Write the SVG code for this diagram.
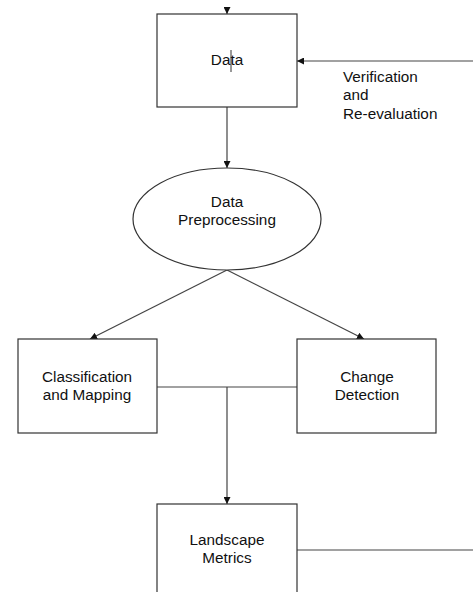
<svg xmlns="http://www.w3.org/2000/svg" width="473" height="592" viewBox="0 0 473 592">
<style>
.box{fill:#fff;stroke:#333;stroke-width:1.2}
.ln{fill:none;stroke:#444;stroke-width:1.2}
text{font-family:"Liberation Sans",Arial,sans-serif;font-size:15.3px;fill:#111}
.c{text-anchor:middle}
</style>
<defs>
<marker id="ah" viewBox="0 0 10 10" refX="10" refY="5" markerWidth="7" markerHeight="7" markerUnits="userSpaceOnUse" orient="auto">
<path d="M0,0 L10,5 L0,10 z" fill="#111"/>
</marker>
</defs>
<rect width="473" height="592" fill="#fff"/>
<g id="connectors">
<line class="ln" x1="227" y1="8" x2="227" y2="14" marker-end="url(#ah)"/>
<line class="ln" x1="473" y1="61" x2="297" y2="61" marker-end="url(#ah)"/>
<line class="ln" x1="227" y1="107" x2="227" y2="168" marker-end="url(#ah)"/>
<line class="ln" x1="227" y1="270" x2="90" y2="339" marker-end="url(#ah)"/>
<line class="ln" x1="227" y1="270" x2="364" y2="339" marker-end="url(#ah)"/>
<line class="ln" x1="157" y1="387" x2="297" y2="387"/>
<line class="ln" x1="227" y1="387" x2="227" y2="504" marker-end="url(#ah)"/>
<line class="ln" x1="297" y1="550" x2="473" y2="550"/>
</g>
<g id="data">
<rect class="box" x="157" y="14" width="140" height="93"/>
<text class="c" x="227" y="65">Data</text>
<line x1="231" y1="50" x2="231" y2="72" stroke="#333" stroke-width="1"/>
</g>
<g id="verification-label">
<text x="343" y="82">Verification</text>
<text x="343" y="100">and</text>
<text x="343" y="119">Re-evaluation</text>
</g>
<g id="preprocessing">
<ellipse class="box" cx="227" cy="219" rx="94" ry="51"/>
<text class="c" x="227" y="207">Data</text>
<text class="c" x="227" y="225">Preprocessing</text>
</g>
<g id="classification">
<rect class="box" x="18" y="339" width="139" height="94"/>
<text class="c" x="87" y="382">Classification</text>
<text class="c" x="87" y="400">and Mapping</text>
</g>
<g id="change">
<rect class="box" x="297" y="339" width="139" height="94"/>
<text class="c" x="367" y="382">Change</text>
<text class="c" x="367" y="400">Detection</text>
</g>
<g id="landscape">
<rect class="box" x="157" y="504" width="140" height="100"/>
<text class="c" x="227" y="545">Landscape</text>
<text class="c" x="227" y="563">Metrics</text>
</g>
</svg>
